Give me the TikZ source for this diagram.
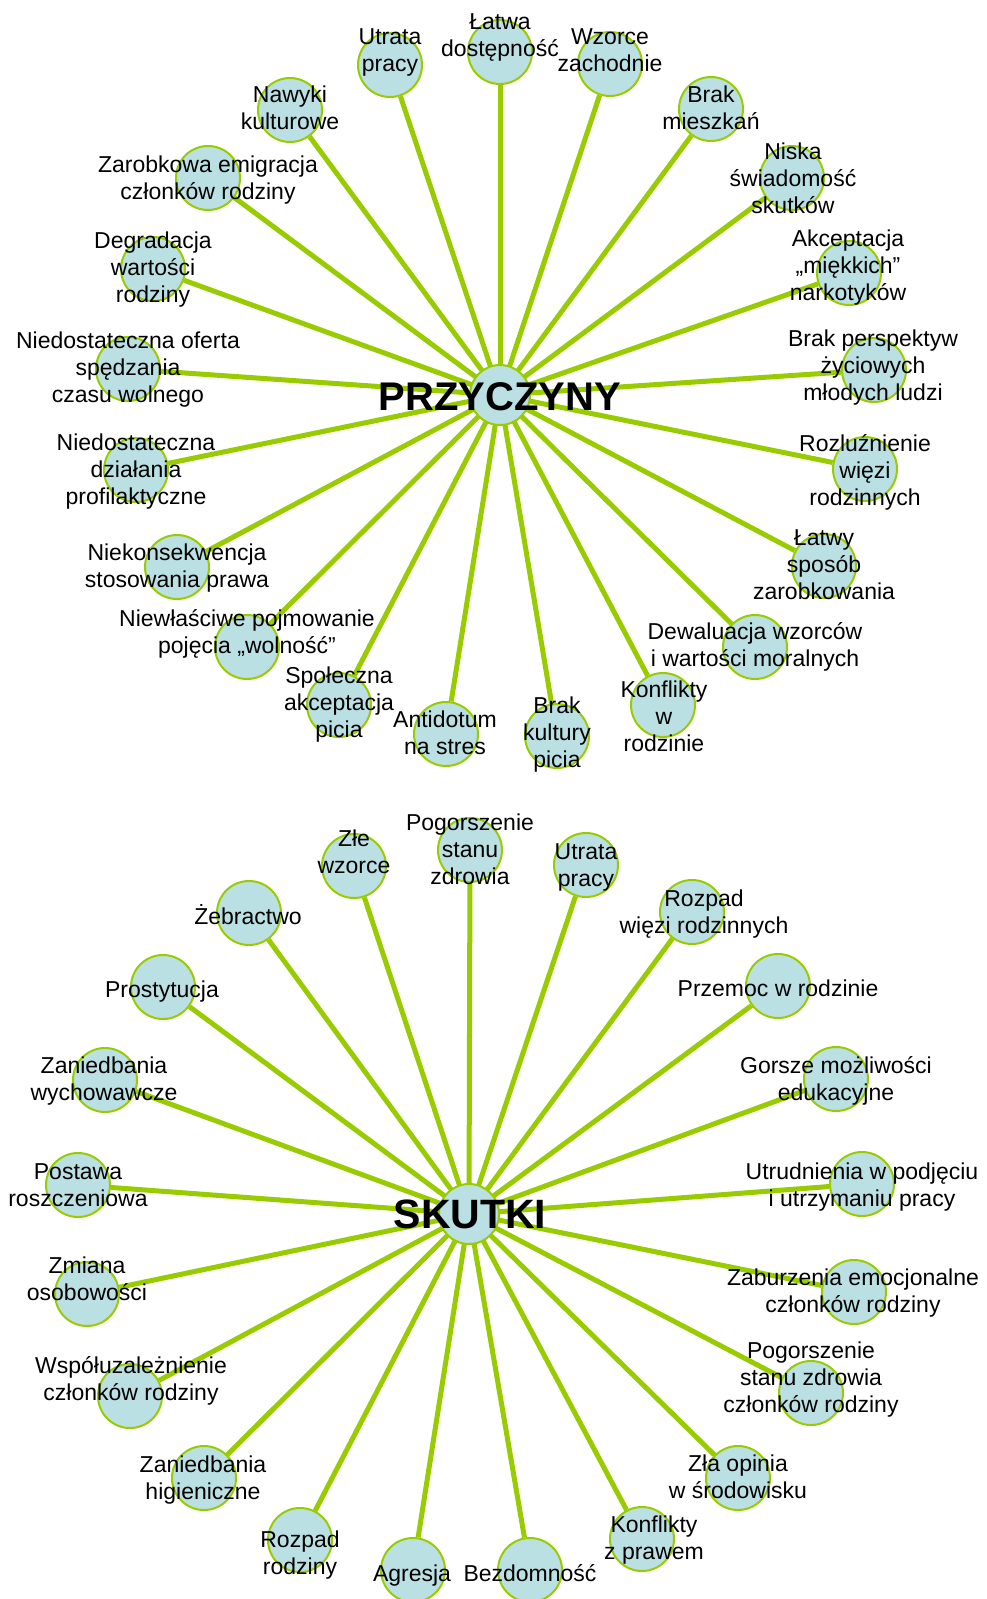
\documentclass[tikz,border=0pt]{standalone}
\usepackage{fontspec}
\setmainfont{Liberation Sans}
\usetikzlibrary{backgrounds}
\definecolor{lgreen}{HTML}{99CC00}
\definecolor{lblue}{HTML}{BBE0E3}
\newcommand{\lblstrut}{\rule[-4pt]{0pt}{27pt}}
\tikzset{
  cir/.style={circle, draw=lgreen, line width=2pt, fill=lblue, minimum size=64pt, inner sep=0pt},
  hubc/.style={circle, draw=lgreen, line width=2pt, fill=lblue, minimum size=60pt, inner sep=0pt},
  lbl/.style={align=center, inner sep=0pt, font=\fontsize{23}{27}\selectfont,
    execute at begin node=\lblstrut, execute at end node=\lblstrut},
  hubtxt/.style={inner sep=0pt, font=\fontsize{40}{48}\selectfont\bfseries, anchor=base},
  conn/.style={draw=lgreen, line width=5pt},
}
\begin{document}
\begin{tikzpicture}[x=1pt,y=-1pt]
\useasboundingbox (0,0) rectangle (986,1599);
% upper hub
\node[hubc] (ph) at (500,395) {};
% upper circles
\node[cir] (p1) at (390,65) {};
\node[cir] (p2) at (500,52) {};
\node[cir] (p3) at (610,64) {};
\node[cir] (p4) at (711,109) {};
\node[cir] (p5) at (792,178) {};
\node[cir] (p6) at (849,273) {};
\node[cir] (p7) at (874,370) {};
\node[cir] (p8) at (865,469) {};
\node[cir] (p9) at (824,566) {};
\node[cir] (p10) at (755,647) {};
\node[cir] (p11) at (663,705) {};
\node[cir] (p12) at (557,736) {};
\node[cir] (p13) at (446,734) {};
\node[cir] (p14) at (339,705) {};
\node[cir] (p15) at (247,647) {};
\node[cir] (p16) at (177,567) {};
\node[cir] (p17) at (136,470) {};
\node[cir] (p18) at (128,369) {};
\node[cir] (p19) at (153,269) {};
\node[cir] (p20) at (208,178) {};
\node[cir] (p21) at (290,110) {};
% lower hub
\node[hubc] (sh) at (469,1214) {};
\node[cir] (s1) at (354,866) {};
\node[cir] (s2) at (470,850) {};
\node[cir] (s3) at (586,865) {};
\node[cir] (s4) at (692,912) {};
\node[cir] (s5) at (778,986) {};
\node[cir] (s6) at (836,1079) {};
\node[cir] (s7) at (862,1184) {};
\node[cir] (s8) at (854,1292) {};
\node[cir] (s9) at (811,1393) {};
\node[cir] (s10) at (738,1478) {};
\node[cir] (s11) at (642,1539) {};
\node[cir] (s12) at (530,1570) {};
\node[cir] (s13) at (413,1570) {};
\node[cir] (s14) at (300,1540) {};
\node[cir] (s15) at (204,1478) {};
\node[cir] (s16) at (130,1396) {};
\node[cir] (s17) at (87,1294) {};
\node[cir] (s18) at (78,1185) {};
\node[cir] (s19) at (105,1080) {};
\node[cir] (s20) at (163,987) {};
\node[cir] (s21) at (249,913) {};
% connectors
\begin{pgfonlayer}{background}
\path[fill=white] (0,0) rectangle (986,1599);
\foreach \i in {1,...,21} {
  \draw[conn] (ph.center) -- (p\i);
  \draw[conn] (sh.center) -- (s\i);
}
\end{pgfonlayer}
% labels upper
\node[hubtxt] (pht) at (500,410) {PRZYCZYNY};
\node[lbl] (p1t) at (390,52) {Utrata\\pracy};
\node[lbl] (p2t) at (500,37) {Łatwa\\dostępność};
\node[lbl] (p3t) at (610,52) {Wzorce\\zachodnie};
\node[lbl] (p4t) at (711,110) {Brak\\mieszkań};
\node[lbl] (p5t) at (793,180) {Niska\\świadomość\\skutków};
\node[lbl] (p6t) at (848,268) {Akceptacja\\„miękkich”\\narkotyków};
\node[lbl] (p7t) at (873,368) {Brak perspektyw\\życiowych\\młodych ludzi};
\node[lbl] (p8t) at (865,472) {Rozluźnienie\\więzi\\rodzinnych};
\node[lbl] (p9t) at (824,567) {Łatwy\\sposób\\zarobkowania};
\node[lbl] (p10t) at (755,647) {Dewaluacja wzorców\\i wartości moralnych};
\node[lbl] (p11t) at (664,718) {Konflikty\\w\\rodzinie};
\node[lbl] (p12t) at (557,735) {Brak\\kultury\\picia};
\node[lbl] (p13t) at (445,735) {Antidotum\\na stres};
\node[lbl] (p14t) at (339,705) {Społeczna\\akceptacja\\picia};
\node[lbl] (p15t) at (247,634) {Niewłaściwe pojmowanie\\pojęcia „wolność”};
\node[lbl] (p16t) at (177,568) {Niekonsekwencja\\stosowania prawa};
\node[lbl] (p17t) at (136,472) {Niedostateczna\\działania\\profilaktyczne};
\node[lbl] (p18t) at (128,370) {Niedostateczna oferta\\spędzania\\czasu wolnego};
\node[lbl] (p19t) at (153,270) {Degradacja\\wartości\\rodziny};
\node[lbl] (p20t) at (208,180) {Zarobkowa emigracja\\członków rodziny};
\node[lbl] (p21t) at (290,110) {Nawyki\\kulturowe};
% labels lower
\node[hubtxt, font=\fontsize{41}{48}\selectfont\bfseries] (sht) at (470,1228) {SKUTKI};
\node[lbl] (s1t) at (354,854) {Złe\\wzorce};
\node[lbl] (s2t) at (470,851) {Pogorszenie\\stanu\\zdrowia};
\node[lbl] (s3t) at (586,867) {Utrata\\pracy};
\node[lbl] (s4t) at (704,914) {Rozpad\\więzi rodzinnych};
\node[lbl] (s5t) at (778,987) {Przemoc w rodzinie};
\node[lbl] (s6t) at (836,1081) {Gorsze możliwości\\edukacyjne};
\node[lbl] (s7t) at (862,1187) {Utrudnienia w podjęciu\\i utrzymaniu pracy};
\node[lbl] (s8t) at (853,1293) {Zaburzenia emocjonalne\\członków rodziny};
\node[lbl] (s9t) at (811,1380) {Pogorszenie\\stanu zdrowia\\członków rodziny};
\node[lbl] (s10t) at (738,1479) {Zła opinia\\w środowisku};
\node[lbl] (s11t) at (654,1540) {Konflikty\\z prawem};
\node[lbl] (s12t) at (530,1572) {Bezdomność};
\node[lbl] (s13t) at (412,1572) {Agresja};
\node[lbl] (s14t) at (300,1555) {Rozpad\\rodziny};
\node[lbl] (s15t) at (203,1480) {Zaniedbania\\higieniczne};
\node[lbl] (s16t) at (131,1381) {Współuzależnienie\\członków rodziny};
\node[lbl] (s17t) at (87,1281) {Zmiana\\osobowości};
\node[lbl] (s18t) at (78,1187) {Postawa\\roszczeniowa};
\node[lbl] (s19t) at (104,1081) {Zaniedbania\\wychowawcze};
\node[lbl] (s20t) at (162,988) {Prostytucja};
\node[lbl] (s21t) at (248,915) {Żebractwo};
\end{tikzpicture}
\end{document}
